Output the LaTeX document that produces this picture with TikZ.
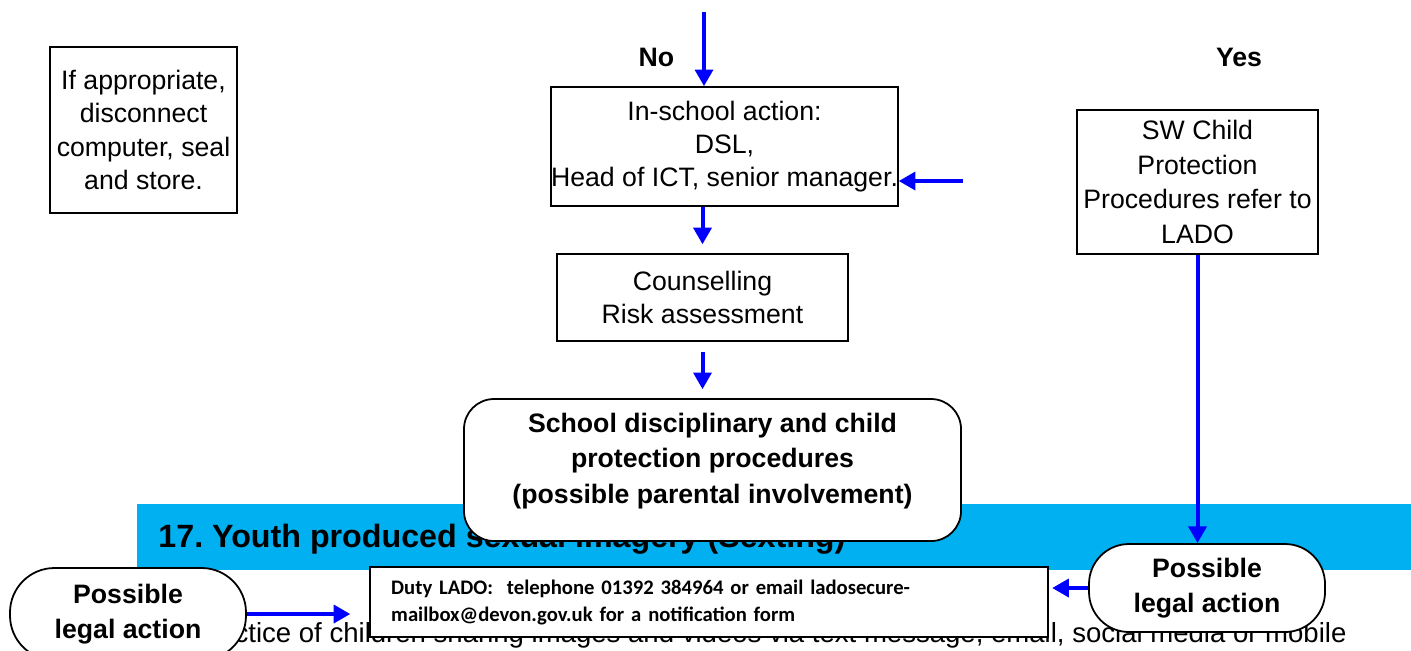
\documentclass[tikz,border=0pt]{standalone}
\usepackage{fontspec}
\setmainfont{Liberation Sans}
\newfontfamily\ladofont{Carlito}
\usetikzlibrary{arrows.meta,positioning}
\definecolor{arrowblue}{RGB}{0,0,255}
\definecolor{bannerblue}{RGB}{0,176,240}
\frenchspacing

\begin{document}
\begin{tikzpicture}[
    x=0.45pt, y=-0.45pt,
    box/.style={rectangle, draw, line width=0.7pt, fill=white, align=center, inner sep=0pt, font=\fontsize{12}{15}\selectfont},
    roundbox/.style={rectangle, draw, rounded corners=18pt, line width=0.8pt, fill=white, align=center, inner sep=0pt, font=\bfseries\fontsize{12}{15.5}\selectfont},
    answer/.style={font=\bfseries\fontsize{12}{14}\selectfont},
    arrow/.style={-{Triangle[width=8pt,length=7.5pt]}, line width=1.8pt, draw=arrowblue}
]
\useasboundingbox (0,0) rectangle (1411,650);
\clip (0,0) rectangle (1411,650);

% Banner and page text behind the chart
\fill[bannerblue] (137,504) rectangle (1411,570);
\node[anchor=base west, inner sep=0pt, font=\bfseries\fontsize{14.5}{17}\selectfont] (bannertext) at (158,547) {17. Youth produced sexual imagery (Sexting)};
\node[anchor=base east, inner sep=0pt, font=\fontsize{12.4}{14}\selectfont] (bodytext) at (1347,642) {practice of children sharing images and videos via text message, email, social media or mobile};

% Left column
\node[box, minimum width=84.15pt, minimum height=74.7pt] (store) at (143.5,130) {If appropriate,\\disconnect\\computer, seal\\and store.};

% Middle column
\node[answer] (no) at (656.5,57) {No};
\node[box, minimum width=150.75pt, minimum height=53.55pt] (inschool) at (724.5,146.5) {In-school action:\\DSL,\\Head of ICT, senior manager.};
\node[box, minimum width=130.95pt, minimum height=39.15pt] (counsel) at (702.5,297.5) {Counselling\\Risk assessment};
\node[roundbox, rounded corners=13.5pt, minimum width=223.65pt, minimum height=63.9pt] (school) at (712.5,470) {};
\node[align=center, font=\bfseries\fontsize{12}{16}\selectfont] (schooltext) at (712.5,461) {School disciplinary and child\\protection procedures\\(possible parental involvement)};

% Right column
\node[answer] (yes) at (1239,57) {Yes};
\node[box, minimum width=108.45pt, minimum height=64.8pt, font=\fontsize{12}{15.7}\selectfont] (sw) at (1197.5,182) {SW Child\\Protection\\Procedures refer to\\LADO};
\node[roundbox, minimum width=106.2pt, minimum height=39.6pt] (legalR) at (1207,588) {Possible\\legal action};

% Bottom row
\node[roundbox, rounded corners=20pt, minimum width=106.2pt, minimum height=41.4pt] (legalL) at (128,614) {Possible\\legal action};
\node[rectangle, draw, line width=0.8pt, fill=white, text width=286pt, inner xsep=9.5pt, minimum height=31.5pt, align=left, font=\ladofont\bfseries\fontsize{9.3}{12.15}\selectfont] (lado) at (709,602) {Duty LADO:\ \ telephone 01392 384964 or email ladosecure-\\mailbox@devon.gov.uk for a notification form};

% Arrows
\coordinate (topin) at (704,12);
\coordinate (rightin) at (963,181);
\draw[arrow] (topin) -- (topin |- inschool.north);
\draw[arrow] (rightin) -- (rightin -| inschool.east);
\draw[arrow, shorten >=4pt] (inschool.south -| counsel) -- (counsel.north);
\draw[arrow, shorten <=4.5pt, shorten >=4pt] (counsel.south) -- (counsel.south |- school.north);
\draw[arrow] (sw.south) -- (sw.south |- legalR.north);
\draw[arrow, shorten >=1.5pt] (legalR.west) -- (legalR.west -| lado.east);
\draw[arrow, shorten >=8.5pt] (legalL.east) -- (legalL.east -| lado.west);

\end{tikzpicture}
\end{document}
